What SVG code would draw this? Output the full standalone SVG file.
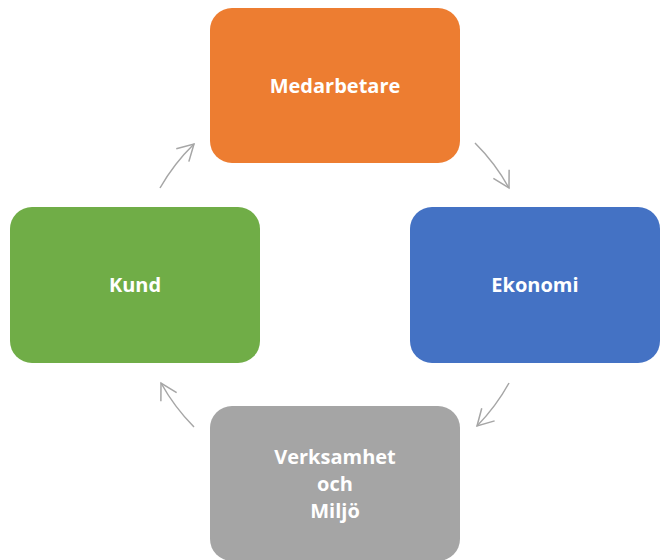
<svg xmlns="http://www.w3.org/2000/svg" width="660" height="560" viewBox="0 0 660 560">
<defs>
<style>
.box{stroke:none}
.lbl{font-family:"Open Sans","Liberation Sans",sans-serif;font-weight:bold;font-size:20px;fill:#ffffff;text-anchor:middle}
.arc{fill:none;stroke:#A6A6A6;stroke-width:1.5;marker-end:url(#head)}
</style>
<marker id="head" markerUnits="userSpaceOnUse" viewBox="-18 -11 20 22" refX="0" refY="0" markerWidth="20" markerHeight="22" orient="auto">
<path d="M-16,-9 L0,0 L-16,9" fill="none" stroke="#A6A6A6" stroke-width="1.5"/>
</marker>
</defs>
<rect width="660" height="560" fill="#ffffff"/>
<g id="connectors">
<path class="arc" d="M475,143 A200,200 0 0 1 509,188"/>
<path class="arc" d="M509,383 A200,200 0 0 1 477,426"/>
<path class="arc" d="M194,427 A200,200 0 0 1 161,383"/>
<path class="arc" d="M160,188 A200,200 0 0 1 194,144"/>
</g>
<g id="medarbetare">
<rect class="box" x="210" y="8" width="250" height="155" rx="22" fill="#ED7D31"/>
<text class="lbl" x="335" y="93">Medarbetare</text>
</g>
<g id="ekonomi">
<rect class="box" x="410" y="207" width="250" height="156" rx="22" fill="#4472C4"/>
<text class="lbl" x="535" y="292">Ekonomi</text>
</g>
<g id="kund">
<rect class="box" x="10" y="207" width="250" height="156" rx="22" fill="#70AD47"/>
<text class="lbl" x="135" y="292">Kund</text>
</g>
<g id="verksamhet">
<rect class="box" x="210" y="406" width="250" height="155" rx="22" fill="#A5A5A5"/>
<text class="lbl" x="335" y="464">Verksamhet</text>
<text class="lbl" x="335" y="491">och</text>
<text class="lbl" x="335" y="518"> Miljö</text>
</g>
</svg>
